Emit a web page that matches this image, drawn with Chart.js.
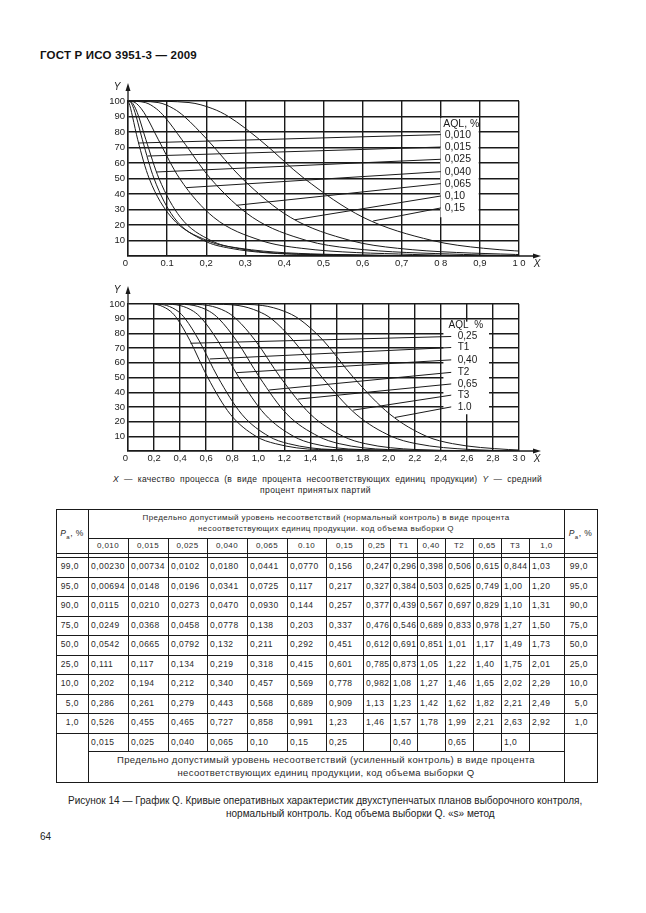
<!DOCTYPE html>
<html lang="ru">
<head>
<meta charset="utf-8">
<title>ГОСТ Р ИСО 3951-3 — 2009, рисунок 14</title>
<script src="https://cdn.jsdelivr.net/npm/chart.js@4.4.1/dist/chart.umd.min.js"></script>
<style>
  html, body { margin: 0; padding: 0; background: #fff; }
  #page { position: relative; width: 646px; height: 913px; overflow: hidden;
          font-family: "Liberation Sans", Arial, sans-serif; color: #222; }
  .t { position: absolute; white-space: nowrap; }
  canvas { position: absolute; }
  .ln { position: absolute; background: #1a1a1a; }
  .c { position: absolute; white-space: nowrap; font-size: 8.5px; letter-spacing: 0.45px; color: #2a2a2a; }
</style>
</head>
<body>
<div id="page">
  <div class="t" style="left:40px;top:49px;font-size:11.5px;font-weight:bold;line-height:12px;letter-spacing:0.2px;color:#111">ГОСТ Р ИСО 3951-3 — 2009</div>

  <canvas id="top" width="480" height="195" style="left:80px;top:78px;width:480px;height:195px"></canvas>
  <canvas id="bottom" width="480" height="187" style="left:80px;top:281px;width:480px;height:187px"></canvas>

  <div class="t" style="left:113px;top:474px;width:429px;font-size:8.5px;line-height:10px;letter-spacing:0.3px;text-align:justify;text-align-last:justify;white-space:normal"><i>X</i> — качество процесса (в виде процента несоответствующих единиц продукции) <i>Y</i> — средний</div>
  <div class="t" style="left:260px;top:485px;font-size:8.5px;line-height:10px;letter-spacing:0.4px">процент принятых партий</div>

  <div id="table"></div>

  <div class="t" style="left:68px;top:795px;font-size:10px;line-height:12px">Рисунок 14 — График Q. Кривые оперативных характеристик двухступенчатых планов выборочного контроля,</div>
  <div class="t" style="left:226px;top:808px;font-size:10px;line-height:12px">нормальный контроль. Код объема выборки Q. «s» метод</div>
  <div class="t" style="left:40px;top:831px;font-size:10px;line-height:12px">64</div>
</div>

<script>
// Доля принятых партий Pa, %
const paLevels = [99, 95, 90, 75, 50, 25, 10, 5, 1];

// Качество процесса (% несоответствующих) для каждого AQL, нормальный контроль
const x0010 = [0.00230, 0.00694, 0.0115, 0.0249, 0.0542, 0.111, 0.202, 0.286, 0.526];
const x0015 = [0.00734, 0.0148, 0.0210, 0.0368, 0.0665, 0.117, 0.194, 0.261, 0.455];
const x0025 = [0.0102, 0.0196, 0.0273, 0.0458, 0.0792, 0.134, 0.212, 0.279, 0.465];
const x0040 = [0.0180, 0.0341, 0.0470, 0.0778, 0.132, 0.219, 0.340, 0.443, 0.727];
const x0065 = [0.0441, 0.0725, 0.0930, 0.138, 0.211, 0.318, 0.457, 0.568, 0.858];
const x010 = [0.0770, 0.117, 0.144, 0.203, 0.292, 0.415, 0.569, 0.689, 0.991];
const x015 = [0.156, 0.217, 0.257, 0.337, 0.451, 0.601, 0.778, 0.909, 1.23];
const x025 = [0.247, 0.327, 0.377, 0.476, 0.612, 0.785, 0.982, 1.13, 1.46];
const xT1 = [0.296, 0.384, 0.439, 0.546, 0.691, 0.873, 1.08, 1.23, 1.57];
const x040 = [0.398, 0.503, 0.567, 0.689, 0.851, 1.05, 1.27, 1.42, 1.78];
const xT2 = [0.506, 0.625, 0.697, 0.833, 1.01, 1.22, 1.46, 1.62, 1.99];
const x065 = [0.615, 0.749, 0.829, 0.978, 1.17, 1.40, 1.65, 1.82, 2.21];
const xT3 = [0.844, 1.00, 1.10, 1.27, 1.49, 1.75, 2.02, 2.21, 2.63];
const x10 = [1.03, 1.20, 1.31, 1.50, 1.73, 2.01, 2.29, 2.49, 2.92];

const aqlNormal = ['0,010', '0,015', '0,025', '0,040', '0,065', '0.10', '0,15', '0,25', 'T1', '0,40', 'T2', '0,65', 'T3', '1,0'];
const aqlTightened = ['0,015', '0,025', '0,040', '0,065', '0,10', '0,15', '0,25', '', '0,40', '', '0,65', '', '1,0', ''];

// Кривые на графиках
const curvesTop = [x0010, x0015, x0025, x0040, x0065, x010, x015];
const curvesBottom = [x025, xT1, x040, xT2, x065, xT3, x10];
const labelsTop = ['0,010', '0,015', '0,025', '0,040', '0,065', '0,10', '0,15'];
const labelsBottom = ['0,25', 'T1', '0,40', 'T2', '0,65', 'T3', '1.0'];

// Начало (Y = 100) и хвост (Y = 0) кривых
const startTop = [0, 0, 0, 0, 0, 0, 0.04];
const endTop = [1.0, 1.0, 1.0, 1.0, 1.1, 1.3, 1.6];
const startBottom = [0.2, 0.22, 0.28, 0.36, 0.44, 0.62, 0.78];
const endBottom = [3.0, 3.0, 3.0, 3.0, 3.0, 3.2, 3.4];

// Подписи делений (у нуля — сдвиг влево, как на оригинале)
const ticksTopX = ['0\u00a0\u00a0', '0.1', '0,2', '0,3', '0,4', '0,5', '0,6', '0,7', '0 8', '0,9', '1 0'];
const ticksBottomX = ['0\u00a0\u00a0', '0,2', '0,4', '0,6', '0,8', '1,0', '1,2', '1,4', '1,6', '1,8', '2,0', '2,2', '2,4', '2,6', '2,8', '3 0'];
const ticksY = ['', '10', '20', '30', '40', '50', '60', '70', '80', '90', '100'];

const INK = '#1a1a1a';
const FONT = '"Liberation Sans", Arial, sans-serif';

function curveData(xs, x0, x1) {
  const pts = [{ x: x0, y: 100 }];
  xs.forEach((v, i) => pts.push({ x: v, y: paLevels[i] }));
  pts.push({ x: x1, y: 0 });
  return pts;
}

// Подписи AQL с выносками, стрелки осей
function makeAnnot(cfg) {
  return {
    id: 'annot',
    beforeDatasetsDraw(chart) {
      const { ctx, scales: { x, y } } = chart;
      const l = x.getPixelForValue(cfg.box[0]), r = x.getPixelForValue(cfg.box[1]);
      const t = y.getPixelForValue(cfg.box[2]), b = y.getPixelForValue(cfg.box[3]);
      ctx.save();
      ctx.fillStyle = '#fff';
      ctx.fillRect(l, t, r - l, b - t);
      ctx.restore();
    },
    afterDatasetsDraw(chart) {
      const { ctx, scales: { x, y } } = chart;
      ctx.save();
      ctx.strokeStyle = INK;
      ctx.lineWidth = 1;
      cfg.leaders.forEach((p, i) => {
        ctx.beginPath();
        ctx.moveTo(x.getPixelForValue(p[0]), y.getPixelForValue(p[1]));
        ctx.lineTo(x.getPixelForValue(cfg.lineEnd), y.getPixelForValue(cfg.labelY[i]));
        ctx.stroke();
      });
      ctx.fillStyle = INK;
      ctx.font = cfg.fontSize + 'px ' + FONT;
      ctx.textBaseline = 'middle';
      ctx.fillText(cfg.title, x.getPixelForValue(cfg.titleX), y.getPixelForValue(cfg.titleY));
      cfg.labels.forEach((s, i) => {
        ctx.fillText(s, x.getPixelForValue(cfg.labelX), y.getPixelForValue(cfg.labelY[i]));
      });
      ctx.restore();
    },
    afterDraw(chart) {
      const { ctx, chartArea: a } = chart;
      ctx.save();
      ctx.strokeStyle = INK;
      ctx.fillStyle = INK;
      ctx.lineWidth = 1.3;
      ctx.beginPath();
      ctx.moveTo(a.left, a.top);
      ctx.lineTo(a.left, a.top - 12);
      ctx.moveTo(a.right, a.bottom);
      ctx.lineTo(a.right + 16, a.bottom);
      ctx.stroke();
      ctx.beginPath();
      ctx.moveTo(a.left, a.top - 18);
      ctx.lineTo(a.left - 2.5, a.top - 10);
      ctx.lineTo(a.left + 2.5, a.top - 10);
      ctx.closePath();
      ctx.moveTo(a.right + 22, a.bottom);
      ctx.lineTo(a.right + 14, a.bottom - 2.5);
      ctx.lineTo(a.right + 14, a.bottom + 2.5);
      ctx.closePath();
      ctx.fill();
      ctx.font = 'italic 10px ' + FONT;
      ctx.textAlign = 'center';
      ctx.textBaseline = 'middle';
      ctx.fillText('Y', a.left - 11, a.top - 14);
      ctx.fillText('X', a.right + 18, a.bottom + 8);
      ctx.restore();
    }
  };
}

function makeChart(id, curves, starts, ends, xMax, xStep, xTicks, cfg) {
  const tickFont = { family: FONT, size: 9.5 };
  const grid = { color: INK, lineWidth: 1.4, drawTicks: false };
  const border = { color: INK, width: 1.4 };
  return new Chart(document.getElementById(id), {
    type: 'scatter',
    data: {
      datasets: curves.map((xs, i) => ({
        data: curveData(xs, starts[i], ends[i]),
        showLine: true,
        borderColor: INK,
        borderWidth: 1,
        cubicInterpolationMode: 'monotone'
      }))
    },
    options: {
      responsive: false,
      animation: false,
      events: [],
      layout: { padding: { top: 23, right: 41, left: 0, bottom: 0 } },
      elements: { point: { radius: 0 } },
      plugins: { legend: { display: false }, tooltip: { enabled: false } },
      scales: {
        x: {
          type: 'linear', min: 0, max: xMax,
          afterFit: s => { s.height = 17; },
          ticks: { stepSize: xStep, autoSkip: false, maxRotation: 0, padding: 2, color: '#222', font: tickFont,
                   callback: (v, i) => xTicks[i] },
          grid: grid, border: border
        },
        y: {
          type: 'linear', min: 0, max: 100,
          afterFit: s => { s.width = 48; },
          ticks: { stepSize: 10, padding: 3, color: '#222', font: tickFont,
                   callback: (v, i) => ticksY[i] },
          grid: grid, border: border
        }
      }
    },
    plugins: [makeAnnot(cfg)]
  });
}

makeChart('top', curvesTop, startTop, endTop, 1.0, 0.1, ticksTopX, {
  box: [0.799, 0.897, 89, 25],
  title: 'AQL, %', titleX: 0.806, titleY: 85.4,
  labels: labelsTop, labelX: 0.81, lineEnd: 0.8, fontSize: 10.5,
  labelY: [78.3, 70.3, 62.4, 54.4, 46.7, 38.7, 31.0],
  leaders: [[0.026, 72.9], [0.05, 64.5], [0.073, 54.2], [0.149, 44.1], [0.277, 32.7], [0.427, 23.4], [0.627, 22.6]]
});

makeChart('bottom', curvesBottom, startBottom, endBottom, 3.0, 0.2, ticksBottomX, {
  box: [2.42, 2.77, 88, 25],
  title: 'AQL  %', titleX: 2.46, titleY: 85.4,
  labels: labelsBottom, labelX: 2.53, lineEnd: 2.48, fontSize: 10,
  labelY: [77.9, 70.4, 62, 53.5, 45.6, 38, 30],
  leaders: [[0.479, 73.3], [0.627, 62.6], [0.832, 53.3], [1.083, 41.5], [1.305, 35.3], [1.728, 27.8], [2.048, 22.8]]
});

// Таблица
const colX = [56, 88, 128, 168, 207, 247, 287, 326, 363, 390, 417, 445, 473, 501, 529, 564, 597];
const Y0 = 509, H1 = 538, H2 = 553, D0 = 557, RH = 19.5, LOW = 751, END = 782;
const D1 = D0 + RH * paLevels.length;
const tbl = document.getElementById('table');

function line(x, y, w, h) {
  const d = document.createElement('div');
  d.className = 'ln';
  d.style.cssText = `left:${x}px;top:${Math.round(y)}px;width:${w}px;height:${h}px`;
  tbl.appendChild(d);
}
function cell(html, x1, x2, y1, y2, align, pad, extra) {
  const d = document.createElement('div');
  d.className = 'c';
  d.innerHTML = html;
  d.style.cssText = `left:${x1}px;top:${y1}px;width:${x2 - x1}px;height:${y2 - y1}px;line-height:${y2 - y1}px;` +
    `text-align:${align};box-sizing:border-box;padding:0 ${align === 'right' ? pad : 0}px 0 ${align === 'left' ? pad : 0}px;` + (extra || '');
  tbl.appendChild(d);
}
const L = colX[0], R = colX[colX.length - 1], C1 = colX[1], C15 = colX[15];
const fmt = v => v.toPrecision(3).replace('.', ',');
const fmtPa = v => v.toFixed(1).replace('.', ',');
const columns = [x0010, x0015, x0025, x0040, x0065, x010, x015, x025, xT1, x040, xT2, x065, xT3, x10];

// линии
line(L, Y0, R - L + 1, 1);
line(C1, H1, C15 - C1, 1);
line(L, H2, R - L + 1, 1);
line(L, D0, R - L + 1, 1);
for (let k = 1; k <= paLevels.length; k++) line(L, D0 + k * RH, R - L + 1, 1);
line(C1, LOW, C15 - C1, 1);
line(L, END, R - L + 1, 1);
[L, C1, C15, R].forEach(x => line(x, Y0, 1, END - Y0 + 1));
for (let c = 2; c < 15; c++) line(colX[c], H1, 1, LOW - H1);

// шапка
cell('Предельно допустимый уровень несоответствий (нормальный контроль) в виде процента<br>несоответствующих единиц продукции. код объема выборки Q',
  C1, C15, Y0 + 1, H1, 'center', 0, 'font-size:8px;letter-spacing:0.4px;line-height:11px;white-space:nowrap;padding-top:2px');
const paHead = '<i>P</i><sub style="font-size:6px">а</sub>, %';
cell(paHead, L, C1, Y0, D0, 'center', 0, 'font-size:8.5px');
cell(paHead, C15, R, Y0, D0, 'center', 0, 'font-size:8.5px');
aqlNormal.forEach((s, c) => cell(s, colX[c + 1], colX[c + 2], H1, H2, 'center', 0, 'font-size:8px;letter-spacing:0.4px'));

// данные
paLevels.forEach((p, r) => {
  const y1 = D0 + r * RH, y2 = y1 + RH;
  cell(fmtPa(p), L, C1, y1, y2, 'right', 9);
  cell(fmtPa(p), C15, R, y1, y2, 'right', 9);
  columns.forEach((col, c) => cell(fmt(col[r]), colX[c + 1], colX[c + 2], y1, y2, 'left', 3));
});

// усиленный контроль
aqlTightened.forEach((s, c) => cell(s, colX[c + 1], colX[c + 2], D1, LOW, 'left', 3));
cell('Предельно допустимый уровень несоответствий (усиленный контроль) в виде процента<br>несоответствующих единиц продукции, код объема выборки Q',
  C1, C15, LOW + 2, END, 'center', 0, 'font-size:9.5px;letter-spacing:0.35px;line-height:13px');
</script>
</body>
</html>
